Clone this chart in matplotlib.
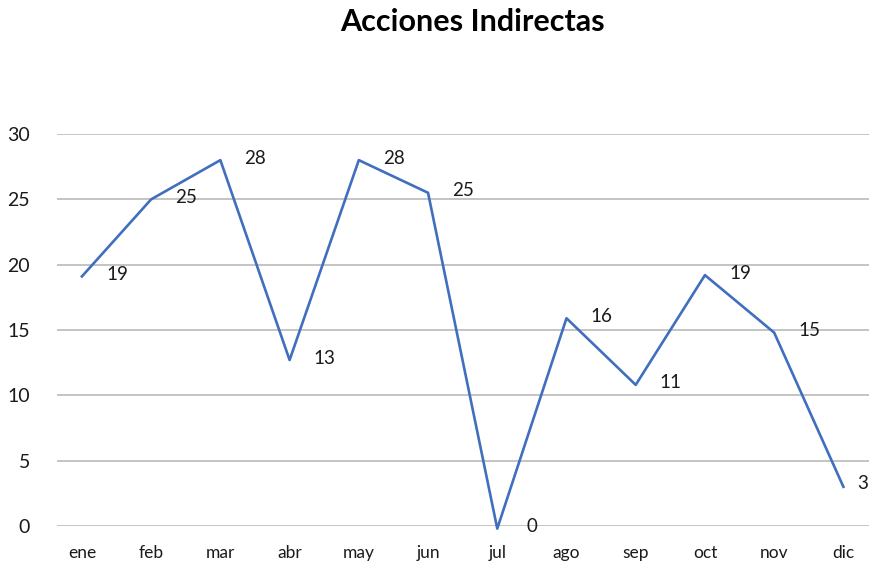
import matplotlib
matplotlib.use("Agg")
import matplotlib.pyplot as plt

months = ["ene", "feb", "mar", "abr", "may", "jun", "jul", "ago", "sep", "oct", "nov", "dic"]
values = [19.1, 25.0, 28.0, 12.7, 28.0, 25.5, -0.2, 15.9, 10.8, 19.2, 14.8, 3.0]
labels = ["19", "25", "28", "13", "28", "25", "0", "16", "11", "19", "15", "3"]
yticks = [0, 5, 10, 15, 20, 25, 30]

W, H = 869, 562
fig = plt.figure(figsize=(W / 100, H / 100), dpi=100)
plt.rcParams["font.family"] = ["Lato", "DejaVu Sans"]

left = 57 / W
bottom = (H - 526) / H
top = (H - 134) / H
ax = fig.add_axes([left, bottom, 1 - left, top - bottom])

x = list(range(len(months)))
ax.plot(x, values, color="#3F6FBD", lw=1.9, clip_on=False, zorder=3)

n = len(x)
for i, (xi, v, lab) in enumerate(zip(x, values, labels)):
    if i == n - 1:
        ax.annotate(lab, (1.0, v), xycoords=("axes fraction", "data"),
                    xytext=(-1, 3), textcoords="offset pixels",
                    ha="right", va="center", fontsize=13.5, color="#1a1a1a",
                    annotation_clip=False)
    else:
        ax.annotate(lab, (xi, v), xytext=(35, 2), textcoords="offset pixels",
                    ha="center", va="center", fontsize=13.5, color="#1a1a1a",
                    annotation_clip=False)

ax.set_ylim(0, 30)
ax.set_xlim(-0.36, 11.37)
ax.set_yticks(yticks)
ax.set_yticklabels([str(t) for t in yticks], fontsize=14, color="#1a1a1a")
ax.set_xticks(x)
ax.set_xticklabels(months, fontsize=12.5, color="#1a1a1a")
ax.tick_params(axis="y", length=0, pad=19.5)
ax.tick_params(axis="x", length=0, pad=14)
ax.grid(axis="y", color="#BFBFBF", lw=1.3)
ax.set_axisbelow(True)
for s in ax.spines.values():
    s.set_visible(False)

fig.text(472 / W, 1 - 22 / H, "Acciones Indirectas", ha="center", va="center",
         fontsize=22, fontweight="bold", color="black")

fig.savefig("out.png", dpi=100)
